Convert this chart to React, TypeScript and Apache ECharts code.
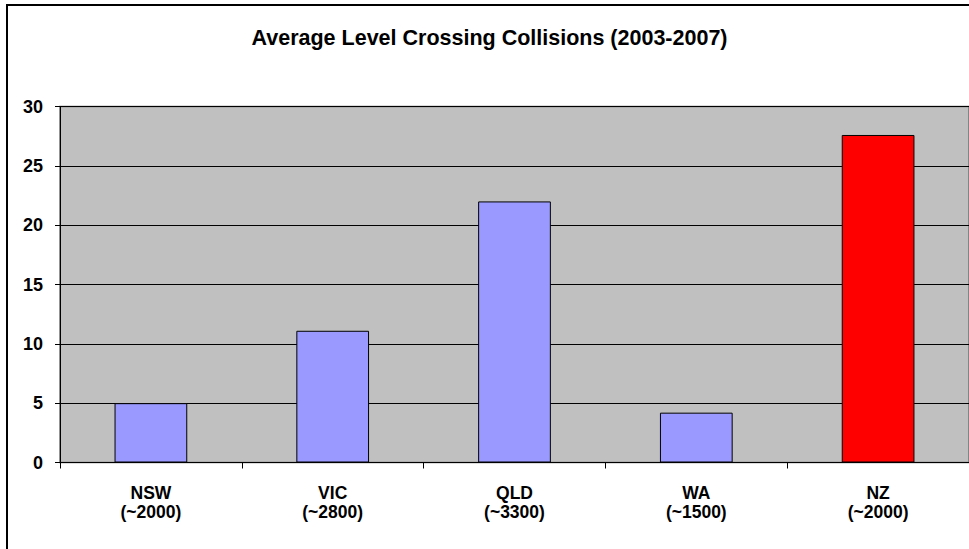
import React, { useEffect, useRef } from "react";
import * as echarts from "echarts";

const categories = ["NSW\n(~2000)", "VIC\n(~2800)", "QLD\n(~3300)", "WA\n(~1500)", "NZ\n(~2000)"];
const values = [5.0, 11.1, 22.0, 4.2, 27.6];
const barColors = ["#9999FF", "#9999FF", "#9999FF", "#9999FF", "#FF0000"];
const titleText = "Average Level Crossing Collisions (2003-2007)";

export default function App() {
  const ref = useRef<HTMLDivElement>(null);
  useEffect(() => {
    if (!ref.current) return;
    const chart = echarts.init(ref.current, undefined, { renderer: "svg" });
    const font = "'Liberation Sans', Arial, sans-serif";
    chart.setOption({
      animation: false,
      backgroundColor: "#ffffff",
      textStyle: { fontFamily: font },
      title: {
        text: titleText,
        left: 484.5,
        textAlign: "center",
        top: 22,
        textStyle: { fontFamily: font, fontSize: 21.5, fontWeight: "bold", color: "#000" },
      },
      graphic: [
        {
          type: "rect",
          shape: { x: 7, y: 5, width: 1000, height: 600 },
          style: { fill: "none", stroke: "#000", lineWidth: 2 },
          silent: true,
          z: 100,
        },
      ],
      grid: {
        left: 60,
        top: 106.5,
        width: 910,
        height: 356,
        show: true,
        backgroundColor: "#C0C0C0",
        borderColor: "#707070",
        borderWidth: 1.5,
      },
      xAxis: {
        type: "category",
        data: categories,
        boundaryGap: true,
        axisLine: { show: true, lineStyle: { color: "#000", width: 1 } },
        axisTick: { show: true, length: 6, alignWithLabel: false, lineStyle: { color: "#000" } },
        axisLabel: {
          margin: 21,
          fontFamily: font,
          fontSize: 17.5,
          fontWeight: "bold",
          color: "#000",
          lineHeight: 19,
          interval: 0,
        },
      },
      yAxis: {
        type: "value",
        min: 0,
        max: 30,
        interval: 5,
        axisLine: { show: true, lineStyle: { color: "#000", width: 1 } },
        axisTick: { show: true, length: 5, lineStyle: { color: "#000" } },
        axisLabel: {
          margin: 17,
          fontFamily: font,
          fontSize: 18,
          fontWeight: "bold",
          color: "#000",
        },
        splitLine: { show: true, lineStyle: { color: "#000", width: 1 } },
      },
      series: [
        {
          type: "bar",
          data: values.map((v, i) => ({ value: v, itemStyle: { color: barColors[i] } })),
          barWidth: "40%",
          itemStyle: { borderColor: "#000", borderWidth: 1 },
        },
      ],
    });
    return () => chart.dispose();
  }, []);
  return (
    <div
      ref={ref}
      style={{ position: "fixed", left: 0, top: 0, width: 969, height: 549 }}
    />
  );
}
